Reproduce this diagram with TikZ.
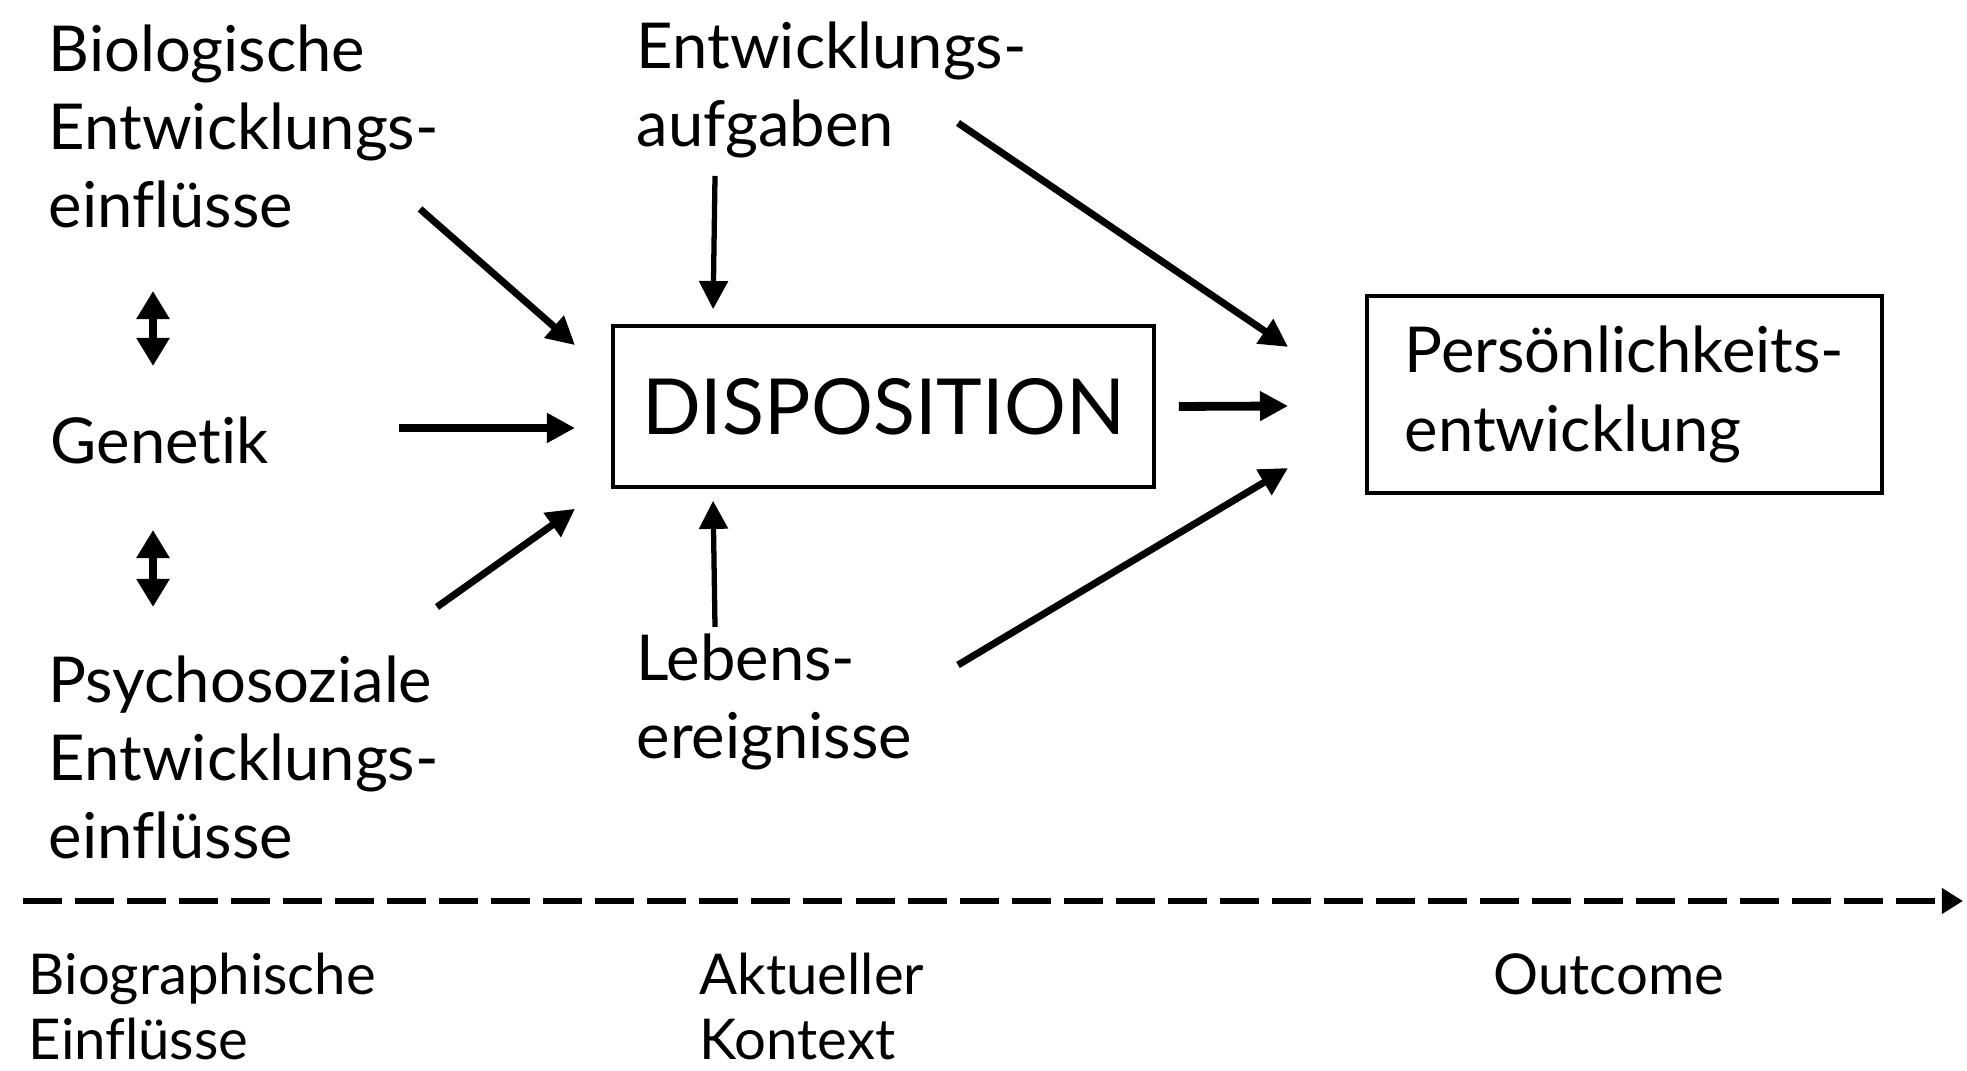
\documentclass[tikz,border=0pt]{standalone}
\usepackage{fontspec}
\setmainfont{Lato}[Ligatures=NoCommon]
\usetikzlibrary{arrows.meta,positioning}
\tikzset{
  txt/.style={inner sep=0pt, align=left, anchor=base west, font=\fontsize{18}{22.2}\selectfont},
  small/.style={txt, font=\fontsize{16}{18.5}\selectfont},
  box/.style={draw, line width=1pt, inner sep=0pt},
  arr/.style={-{Triangle[length=8pt,width=8pt]}, line width=2pt},
  dbl/.style={{Triangle[length=8pt,width=9pt]}-{Triangle[length=8pt,width=9pt]}, line width=2pt},
  axis/.style={-{Triangle[length=6pt,width=7pt]}, line width=1.7pt, dash pattern=on 0.39cm off 0.13cm},
}
\begin{document}
\begin{tikzpicture}[x=0.01cm, y=0.01cm]
\useasboundingbox (0,0) rectangle (1967,1071);
\node[txt] (bio) at (48,843) {Biologische\\Entwicklungs-\\einflüsse};
\node[txt] (gen) at (50,607) {Genetik};
\node[txt] (psy) at (48,212) {Psychosoziale\\Entwicklungs-\\einflüsse};
\node[txt] (auf) at (636,924) {Entwicklungs-\\aufgaben};
\node[txt] (leb) at (636,312) {Lebens-\\ereignisse};
\node[box, minimum width=5.41cm, minimum height=1.61cm, font=\fontsize{22}{26}\selectfont] (disp) at (883.5,664.5) {DISPOSITION};
\node[box, align=left, minimum width=5.15cm, minimum height=1.97cm, font=\fontsize{18}{22.2}\selectfont] (pers) at (1624.5,676.5) {Persönlichkeits-\\entwicklung};
\node[small] (bioe) at (28,11) {Biographische\\Einflüsse};
\node[small] (akt) at (699,11) {Aktueller\\Kontext};
\node[small] (out) at (1493,76) {Outcome};
\coordinate (t0) at (23,170);
\coordinate (t1) at (1963,170);
\draw[dbl] ([shift={(103,98)}]gen.base west) -- ([shift={(103,173)}]gen.base west);
\draw[dbl] ([shift={(103,-66)}]gen.base west) -- ([shift={(103,-143)}]gen.base west);
\draw[arr] ([shift={(372,19)}]bio.base west) -- ([shift={(-36,-21)}]disp.north west);
\draw[arr, line width=2.5pt] ([shift={(349,36)}]gen.base west) -- ([shift={(-36,-21.5)}]disp.west);
\draw[arr] ([shift={(389,252)}]psy.base west) -- ([shift={(-36,-20)}]disp.south west);
\draw[arr, line width=1.5pt] ([shift={(79,-29)}]auf.base west) -- ([shift={(102,15)}]disp.north west);
\draw[arr, line width=1.5pt] ([shift={(79,132)}]leb.base west) -- ([shift={(102,-12)}]disp.south west);
\draw[arr, line width=2.5pt] ([shift={(23,0)}]disp.east) -- ([shift={(-77,-11.5)}]pers.west);
\draw[arr] ([shift={(322,24)}]auf.base west) -- ([shift={(-77,47.5)}]pers.west);
\draw[arr] ([shift={(322,94)}]leb.base west) -- ([shift={(-77,-73.5)}]pers.west);
\draw[axis] (t0) -- (t1);
\end{tikzpicture}
\end{document}
